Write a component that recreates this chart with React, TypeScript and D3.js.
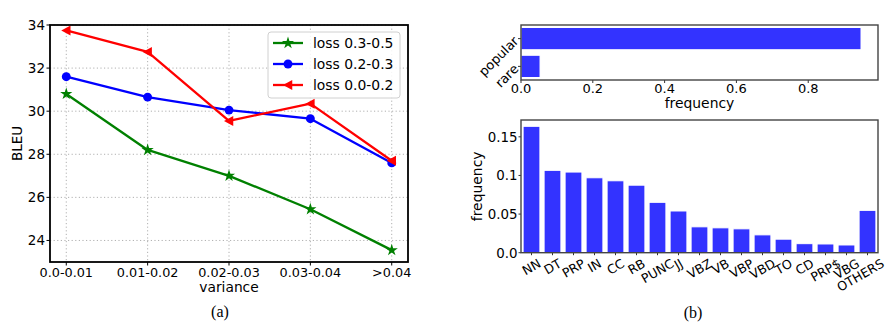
import React, { useRef, useEffect } from 'react';
import * as d3 from 'd3';

// (a) BLEU by variance bucket, one line per loss range
const varianceBins = ['0.0-0.01', '0.01-0.02', '0.02-0.03', '0.03-0.04', '>0.04'];
const bleuTicks = [24, 26, 28, 30, 32, 34];
const loss0305 = [30.8, 28.2, 27.0, 25.45, 23.55];
const loss0203 = [31.6, 30.65, 30.05, 29.65, 27.6];
const loss0002 = [33.75, 32.75, 29.55, 30.35, 27.7];

// (b) top: popular vs rare
const groups = ['rare', 'popular'];
const groupFreq = [0.053, 0.947];
const groupTicks = [0, 0.2, 0.4, 0.6, 0.8];

// (b) bottom: POS tag frequency
const posTags = ['NN', 'DT', 'PRP', 'IN', 'CC', 'RB', 'PUNC', 'JJ', 'VBZ', 'VB', 'VBP', 'VBD', 'TO', 'CD', 'PRP$', 'VBG', 'OTHERS'];
const posFreq = [0.1636, 0.1066, 0.1044, 0.097, 0.0931, 0.0874, 0.0652, 0.054, 0.0335, 0.0322, 0.0309, 0.0231, 0.0175, 0.0117, 0.0113, 0.01, 0.0548];
const posTicks = [0, 0.05, 0.1, 0.15];
const posTickLabels = ['0.0', '0.05', '0.1', '0.15'];

const SANS = 'DejaVu Sans, sans-serif';
const SERIF = 'Liberation Serif, Times New Roman, serif';
const BAR = 'rgba(0,0,255,0.8)';

const App = () => {
  const ref = useRef(null);

  useEffect(() => {
    const svg = d3.select(ref.current);
    svg.selectAll('*').remove();

    // ---------- panel (a) ----------
    const a = { left: 50, right: 408, top: 25, bottom: 262 };
    const x = d3.scaleLinear().domain([-0.2, varianceBins.length - 1 + 0.2]).range([a.left, a.right]);
    const y = d3.scaleLinear().domain([23, 34]).range([a.bottom, a.top]);
    const ga = svg.append('g');

    // dotted grid
    ga.selectAll('.gx').data(varianceBins).enter().append('line')
      .attr('x1', (d, i) => x(i)).attr('x2', (d, i) => x(i))
      .attr('y1', a.top).attr('y2', a.bottom)
      .attr('stroke', '#b0b0b0').attr('stroke-width', 1).attr('stroke-dasharray', '1.2,2.4');
    ga.selectAll('.gy').data(bleuTicks).enter().append('line')
      .attr('x1', a.left).attr('x2', a.right)
      .attr('y1', d => y(d)).attr('y2', d => y(d))
      .attr('stroke', '#b0b0b0').attr('stroke-width', 1).attr('stroke-dasharray', '1.2,2.4');

    // ticks + labels
    ga.selectAll('.ty').data(bleuTicks).enter().append('line')
      .attr('x1', a.left - 3.5).attr('x2', a.left).attr('y1', d => y(d)).attr('y2', d => y(d))
      .attr('stroke', '#000').attr('stroke-width', 1);
    ga.selectAll('.ly').data(bleuTicks).enter().append('text')
      .attr('x', a.left - 5).attr('y', d => y(d)).attr('dy', '0.36em')
      .attr('text-anchor', 'end').attr('font-family', SANS).attr('font-size', 13.5)
      .text(d => d);
    ga.selectAll('.tx').data(varianceBins).enter().append('line')
      .attr('x1', (d, i) => x(i)).attr('x2', (d, i) => x(i)).attr('y1', a.bottom).attr('y2', a.bottom + 3.5)
      .attr('stroke', '#000').attr('stroke-width', 1);
    ga.selectAll('.lx').data(varianceBins).enter().append('text')
      .attr('x', (d, i) => x(i)).attr('y', 277)
      .attr('text-anchor', 'middle').attr('font-family', SANS).attr('font-size', 12.8)
      .text(d => d);

    ga.append('text').attr('x', (a.left + a.right) / 2).attr('y', 292)
      .attr('text-anchor', 'middle').attr('font-family', SANS).attr('font-size', 13.8).text('variance');
    ga.append('text').attr('transform', `translate(22,${(a.top + a.bottom) / 2}) rotate(-90)`)
      .attr('text-anchor', 'middle').attr('font-family', SANS).attr('font-size', 13.5).text('BLEU');
    ga.append('text').attr('x', 220).attr('y', 317)
      .attr('text-anchor', 'middle').attr('font-family', SERIF).attr('font-size', 16).text('(a)');

    const triLeft = (s) => `M${-s},0L${s * 0.85},${-s}L${s * 0.85},${s}Z`;
    const markerPath = (kind) => {
      if (kind === 'star') return d3.symbol(d3.symbolStar, 46)();
      if (kind === 'circle') return d3.symbol(d3.symbolCircle, 62)();
      return triLeft(5);
    };

    const series = [
      { name: 'loss 0.3-0.5', values: loss0305, color: 'green', marker: 'star' },
      { name: 'loss 0.2-0.3', values: loss0203, color: '#0000ff', marker: 'circle' },
      { name: 'loss 0.0-0.2', values: loss0002, color: '#ff0000', marker: 'tri' },
    ];

    const line = d3.line().x((d, i) => x(i)).y(d => y(d));
    series.forEach(s => {
      ga.append('path').datum(s.values)
        .attr('fill', 'none').attr('stroke', s.color).attr('stroke-width', 2.3)
        .attr('stroke-linejoin', 'round').attr('d', line);
      ga.selectAll(null).data(s.values).enter().append('path')
        .attr('transform', (d, i) => `translate(${x(i)},${y(d)})`)
        .attr('d', markerPath(s.marker)).attr('fill', s.color);
    });

    ga.append('rect').attr('x', a.left).attr('y', a.top)
      .attr('width', a.right - a.left).attr('height', a.bottom - a.top)
      .attr('fill', 'none').attr('stroke', '#000').attr('stroke-width', 1.8);

    // legend
    const lg = ga.append('g');
    lg.append('rect').attr('x', 268).attr('y', 32).attr('width', 132).attr('height', 66).attr('rx', 3)
      .attr('fill', 'rgba(255,255,255,0.85)').attr('stroke', '#d0d0d0').attr('stroke-width', 1);
    series.forEach((s, i) => {
      const ly = 43 + i * 21;
      lg.append('line').attr('x1', 273).attr('x2', 303).attr('y1', ly).attr('y2', ly)
        .attr('stroke', s.color).attr('stroke-width', 2.3);
      lg.append('path').attr('transform', `translate(288,${ly})`).attr('d', markerPath(s.marker)).attr('fill', s.color);
      lg.append('text').attr('x', 313).attr('y', ly).attr('dy', '0.36em')
        .attr('font-family', SANS).attr('font-size', 13.9).text(s.name);
    });

    // ---------- panel (b) top ----------
    const t = { left: 521, right: 878, top: 25, bottom: 80 };
    const fx = d3.scaleLinear().domain([0, d3.max(groupFreq) * 1.05]).range([t.left, t.right]);
    const fy = d3.scaleLinear().domain([-0.49, groups.length - 1 + 0.49]).range([t.bottom, t.top]);
    const gt = svg.append('g');
    gt.selectAll('rect.bar').data(groupFreq).enter().append('rect')
      .attr('x', fx(0)).attr('y', (d, i) => fy(i + 0.4))
      .attr('width', d => fx(d) - fx(0)).attr('height', (d, i) => fy(i - 0.4) - fy(i + 0.4))
      .attr('fill', BAR).attr('stroke', '#fff').attr('stroke-width', 1);
    gt.selectAll('.tx').data(groupTicks).enter().append('line')
      .attr('x1', d => fx(d)).attr('x2', d => fx(d)).attr('y1', t.bottom).attr('y2', t.bottom + 3)
      .attr('stroke', '#333').attr('stroke-width', 1);
    gt.selectAll('.lx').data(groupTicks).enter().append('text')
      .attr('x', d => fx(d)).attr('y', 93)
      .attr('text-anchor', 'middle').attr('font-family', SANS).attr('font-size', 13)
      .text(d => d3.format('.1f')(d));
    gt.selectAll('.ty').data(groups).enter().append('line')
      .attr('x1', t.left - 3).attr('x2', t.left).attr('y1', (d, i) => fy(i)).attr('y2', (d, i) => fy(i))
      .attr('stroke', '#333').attr('stroke-width', 1);
    gt.selectAll('.ly').data(groups).enter().append('text')
      .attr('transform', (d, i) => `translate(516,${fy(i)}) rotate(-45)`)
      .attr('text-anchor', 'end').attr('dy', '0.36em')
      .attr('font-family', SANS).attr('font-size', 13).text(d => d);
    gt.append('text').attr('x', (t.left + t.right) / 2).attr('y', 108)
      .attr('text-anchor', 'middle').attr('font-family', SANS).attr('font-size', 13.9).text('frequency');
    gt.append('rect').attr('x', t.left).attr('y', t.top)
      .attr('width', t.right - t.left).attr('height', t.bottom - t.top)
      .attr('fill', 'none').attr('stroke', '#444').attr('stroke-width', 1.4);

    // ---------- panel (b) bottom ----------
    const b = { left: 521, right: 878, top: 120, bottom: 252.7 };
    const px = d3.scaleLinear().domain([-0.5, posTags.length - 0.5]).range([b.left, b.right]);
    const py = d3.scaleLinear().domain([0, d3.max(posFreq) * 1.05]).range([b.bottom, b.top]);
    const gb = svg.append('g');
    gb.selectAll('rect.bar').data(posFreq).enter().append('rect')
      .attr('x', (d, i) => px(i - 0.4)).attr('y', d => py(d))
      .attr('width', px(0.4) - px(-0.4)).attr('height', d => py(0) - py(d))
      .attr('fill', BAR).attr('stroke', '#fff').attr('stroke-width', 1);
    gb.selectAll('.ty').data(posTicks).enter().append('line')
      .attr('x1', b.left - 2.5).attr('x2', b.left).attr('y1', d => py(d)).attr('y2', d => py(d))
      .attr('stroke', '#333').attr('stroke-width', 1);
    gb.selectAll('.ly').data(posTickLabels).enter().append('text')
      .attr('x', b.left - 3.5).attr('y', (d, i) => py(posTicks[i])).attr('dy', '0.36em')
      .attr('text-anchor', 'end').attr('font-family', SANS).attr('font-size', 13.4).text(d => d);
    gb.selectAll('.tx').data(posTags).enter().append('line')
      .attr('x1', (d, i) => px(i)).attr('x2', (d, i) => px(i)).attr('y1', b.bottom).attr('y2', b.bottom + 2.5)
      .attr('stroke', '#333').attr('stroke-width', 1);

    // rotated tag labels, bounding box centred under each tick
    const fs = 12.6;
    const ang = 30 * Math.PI / 180;
    gb.selectAll('.lx').data(posTags).enter().append('text')
      .attr('text-anchor', 'middle').attr('dy', '0.36em')
      .attr('font-family', SANS).attr('font-size', fs).text(d => d)
      .each(function (d, i) {
        const w = this.getComputedTextLength();
        const h = fs * 1.0;
        const H = w * Math.sin(ang) + h * Math.cos(ang);
        // keep the last label inside the page
        const cx = Math.min(px(i), 886 - (w * Math.cos(ang) + h * Math.sin(ang)) / 2);
        const cy = b.bottom + 4 + H / 2;
        d3.select(this).attr('transform', `translate(${cx},${cy}) rotate(-30)`);
      });

    gb.append('text').attr('transform', `translate(482,${(b.top + b.bottom) / 2}) rotate(-90)`)
      .attr('text-anchor', 'middle').attr('font-family', SANS).attr('font-size', 13.9).text('frequency');
    gb.append('text').attr('x', 693).attr('y', 318)
      .attr('text-anchor', 'middle').attr('font-family', SERIF).attr('font-size', 16).text('(b)');
    gb.append('rect').attr('x', b.left).attr('y', b.top)
      .attr('width', b.right - b.left).attr('height', b.bottom - b.top)
      .attr('fill', 'none').attr('stroke', '#444').attr('stroke-width', 1.4);
  }, []);

  return (
    <svg ref={ref} width={888} height={324}
      style={{ position: 'absolute', left: 0, top: 0, background: '#fff' }} />
  );
};

export default App;
